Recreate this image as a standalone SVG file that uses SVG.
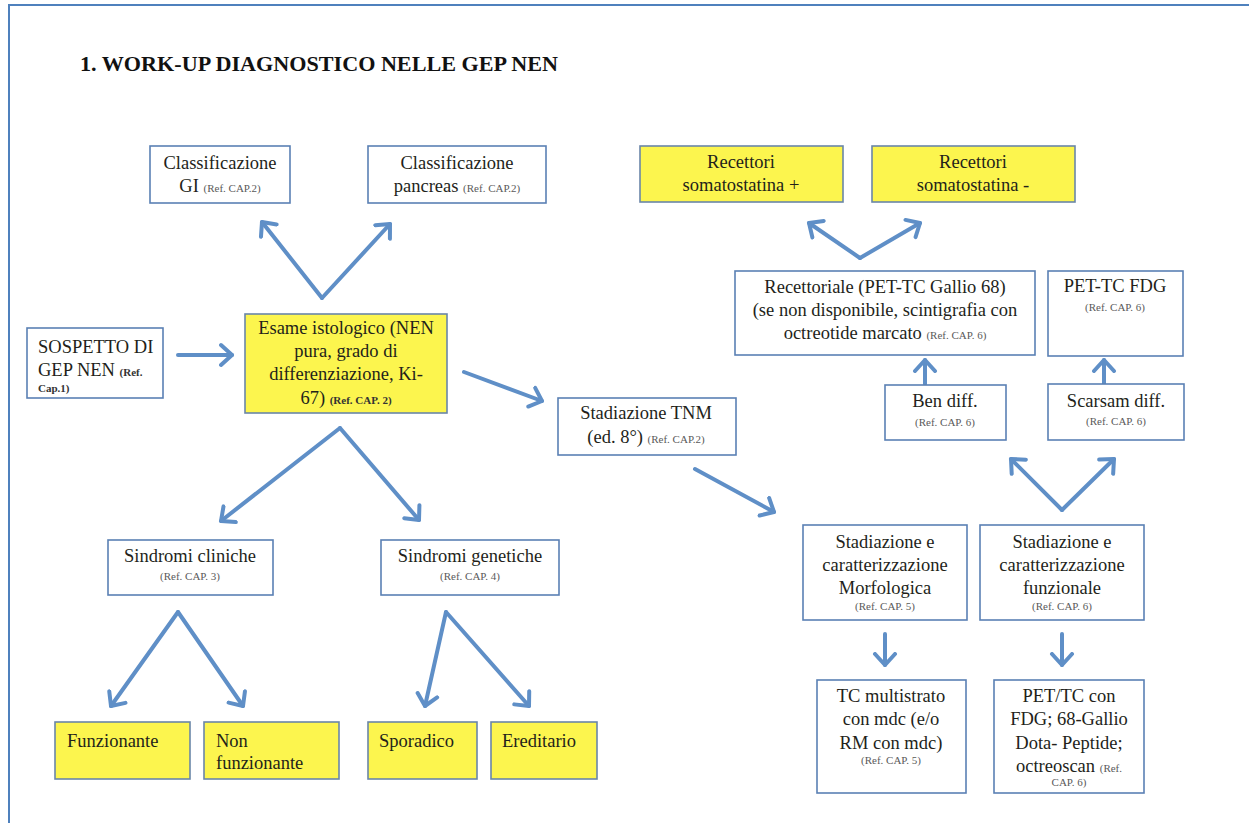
<svg xmlns="http://www.w3.org/2000/svg" width="1249" height="823" viewBox="0 0 1249 823">
<defs>
<marker id="ah" markerUnits="userSpaceOnUse" markerWidth="26" markerHeight="26" refX="13" refY="13" orient="auto" viewBox="0 0 26 26">
<path d="M2,3 L13,13 L2,23" fill="none" stroke="#5f8fc7" stroke-width="4" stroke-linecap="round" stroke-linejoin="round"/>
</marker>
</defs>
<style>
.frame{stroke:#4f81bd;stroke-width:2;fill:none}
.box{fill:#fff;stroke:#5a80b4;stroke-width:1.6}
.ybox{fill:#fcf54e;stroke:#6a86a8;stroke-width:1.6}
text{font-family:"Liberation Serif","DejaVu Serif",serif;font-size:18.5px;fill:#231f1a}
.c{text-anchor:middle}
.r{font-size:11px;fill:#5a5a5a}
.rb{font-size:11px;font-weight:bold;fill:#333}
.title{font-size:21px;font-weight:bold;fill:#111}
.conn path{fill:none;stroke:#5f8fc7;stroke-width:4;stroke-linecap:round;marker-end:url(#ah)}
</style>
<rect width="1249" height="823" fill="#fff"/>
<path class="frame" d="M9,823 L9,5 L1249,5"/>
<text class="title" x="80" y="71" textLength="478" lengthAdjust="spacingAndGlyphs">1. WORK-UP DIAGNOSTICO NELLE GEP NEN</text>

<g class="conn">
<path d="M178,355 L232,355"/>
<path d="M322,298 L262,222"/>
<path d="M322,298 L390,224"/>
<path d="M464,372 L542,401"/>
<path d="M340,428 L221,521"/>
<path d="M340,428 L419,520"/>
<path d="M178,612 L111,706"/>
<path d="M178,612 L243,706"/>
<path d="M446,612 L425,706"/>
<path d="M446,612 L529,706"/>
<path d="M695,469 L774,512"/>
<path d="M860,258 L809,223"/>
<path d="M860,258 L920,223"/>
<path d="M925,384 L925,360"/>
<path d="M1104,384 L1104,360"/>
<path d="M1062,510 L1011,459"/>
<path d="M1062,510 L1114,459"/>
<path d="M885,634 L885,665"/>
<path d="M1062,634 L1062,665"/>
</g>

<g id="classGI">
<rect class="box" x="150" y="146" width="140" height="57"/>
<text class="c" x="220" y="169">Classificazione</text>
<text class="c" x="220" y="192">GI <tspan class="r">(Ref. CAP.2)</tspan></text>
</g>
<g id="classPanc">
<rect class="box" x="368" y="146" width="178" height="57"/>
<text class="c" x="457" y="169">Classificazione</text>
<text class="c" x="457" y="192">pancreas <tspan class="r">(Ref. CAP.2)</tspan></text>
</g>
<g id="sospetto">
<rect class="box" x="27" y="328" width="136" height="70"/>
<text x="38" y="353">SOSPETTO DI</text>
<text x="38" y="376">GEP NEN <tspan class="rb">(Ref.</tspan></text>
<text class="rb" x="38" y="392">Cap.1)</text>
</g>
<g id="esame">
<rect class="ybox" x="245" y="314" width="202" height="99"/>
<text class="c" x="346" y="334">Esame istologico (NEN</text>
<text class="c" x="346" y="357">pura, grado di</text>
<text class="c" x="346" y="380">differenziazione, Ki-</text>
<text class="c" x="346" y="404">67) <tspan class="rb" font-size="10">(Ref. CAP. 2)</tspan></text>
</g>
<g id="tnm">
<rect class="box" x="558" y="398" width="178" height="57"/>
<text class="c" x="646" y="419">Stadiazione TNM</text>
<text class="c" x="646" y="443">(ed. 8°) <tspan class="r">(Ref. CAP.2)</tspan></text>
</g>
<g id="recPlus">
<rect class="ybox" x="640" y="146" width="203" height="56"/>
<text class="c" x="741" y="168">Recettori</text>
<text class="c" x="741" y="191">somatostatina +</text>
</g>
<g id="recMinus">
<rect class="ybox" x="872" y="146" width="203" height="56"/>
<text class="c" x="973" y="168">Recettori</text>
<text class="c" x="973" y="191">somatostatina -</text>
</g>
<g id="recettoriale">
<rect class="box" x="735" y="271" width="300" height="84"/>
<text class="c" x="885" y="293">Recettoriale (PET-TC Gallio 68)</text>
<text class="c" x="885" y="316">(se non disponibile, scintigrafia con</text>
<text class="c" x="885" y="339">octreotide marcato <tspan class="r">(Ref. CAP. 6)</tspan></text>
</g>
<g id="petFdg">
<rect class="box" x="1048" y="271" width="135" height="85"/>
<text class="c" x="1115" y="292">PET-TC FDG</text>
<text class="c r" x="1115" y="311">(Ref. CAP. 6)</text>
</g>
<g id="ben">
<rect class="box" x="885" y="385" width="121" height="55"/>
<text class="c" x="945" y="407">Ben diff.</text>
<text class="c r" x="945" y="426">(Ref. CAP. 6)</text>
</g>
<g id="scarsam">
<rect class="box" x="1048" y="384" width="136" height="56"/>
<text class="c" x="1116" y="407">Scarsam diff.</text>
<text class="c r" x="1116" y="425">(Ref. CAP. 6)</text>
</g>
<g id="morfo">
<rect class="box" x="803" y="525" width="164" height="95"/>
<text class="c" x="885" y="548">Stadiazione e</text>
<text class="c" x="885" y="571">caratterizzazione</text>
<text class="c" x="885" y="594">Morfologica</text>
<text class="c r" x="885" y="610">(Ref. CAP. 5)</text>
</g>
<g id="funz">
<rect class="box" x="980" y="525" width="164" height="95"/>
<text class="c" x="1062" y="548">Stadiazione e</text>
<text class="c" x="1062" y="571">caratterizzazione</text>
<text class="c" x="1062" y="594">funzionale</text>
<text class="c r" x="1062" y="610">(Ref. CAP. 6)</text>
</g>
<g id="tc">
<rect class="box" x="817" y="680" width="149" height="113"/>
<text class="c" x="891" y="702">TC multistrato</text>
<text class="c" x="891" y="725">con mdc (e/o</text>
<text class="c" x="891" y="749">RM con mdc)</text>
<text class="c r" x="891" y="764">(Ref. CAP. 5)</text>
</g>
<g id="pettc">
<rect class="box" x="994" y="680" width="150" height="113"/>
<text class="c" x="1069" y="702">PET/TC con</text>
<text class="c" x="1069" y="725">FDG; 68-Gallio</text>
<text class="c" x="1069" y="749">Dota- Peptide;</text>
<text class="c" x="1069" y="772">octreoscan <tspan class="r">(Ref.</tspan></text>
<text class="c r" x="1069" y="786">CAP. 6)</text>
</g>
<g id="sindCli">
<rect class="box" x="108" y="540" width="165" height="55"/>
<text class="c" x="190" y="562">Sindromi cliniche</text>
<text class="c r" x="190" y="580">(Ref. CAP. 3)</text>
</g>
<g id="sindGen">
<rect class="box" x="381" y="540" width="178" height="55"/>
<text class="c" x="470" y="562">Sindromi genetiche</text>
<text class="c r" x="470" y="580">(Ref. CAP. 4)</text>
</g>
<g id="funzionante">
<rect class="ybox" x="55" y="722" width="135" height="57"/>
<text x="67" y="747">Funzionante</text>
</g>
<g id="nonFunz">
<rect class="ybox" x="204" y="722" width="135" height="57"/>
<text x="216" y="747">Non</text>
<text x="216" y="769">funzionante</text>
</g>
<g id="sporadico">
<rect class="ybox" x="368" y="722" width="109" height="57"/>
<text x="379" y="747">Sporadico</text>
</g>
<g id="ereditario">
<rect class="ybox" x="491" y="722" width="106" height="57"/>
<text x="502" y="747">Ereditario</text>
</g>
</svg>
